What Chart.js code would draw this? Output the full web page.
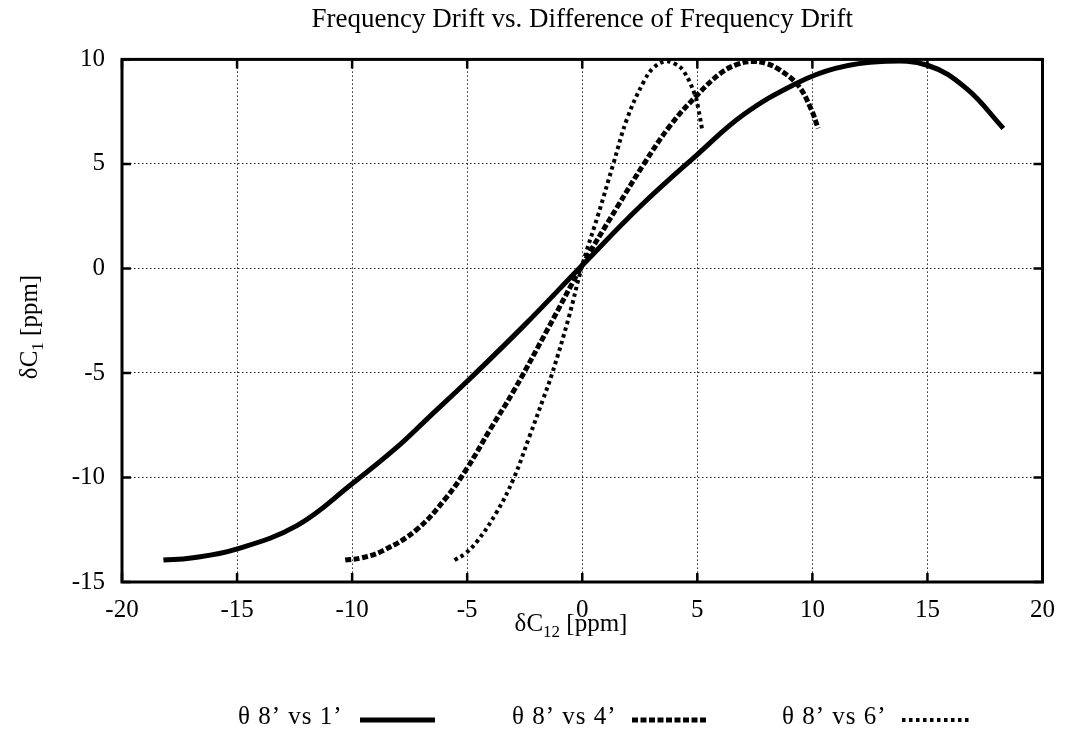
<!DOCTYPE html>
<html>
<head>
<meta charset="utf-8">
<title>Frequency Drift vs. Difference of Frequency Drift</title>
<script src="https://cdn.jsdelivr.net/npm/chart.js@4.4.1/dist/chart.umd.min.js"></script>
<style>
  html, body { margin: 0; padding: 0; background: #fff; }
  #wrap { width: 1068px; height: 740px; }
</style>
</head>
<body>
<div id="wrap"><canvas id="drift" width="1068" height="740"></canvas></div>
<script>
/* ---------- DATA ---------- */
const chartTitle = "Frequency Drift vs. Difference of Frequency Drift";
const seriesLabels = ["θ 8’ vs 1’", "θ 8’ vs 4’", "θ 8’ vs 6’"];

const xTicks = [-20, -15, -10, -5, 0, 5, 10, 15, 20];
const yTicks = [-15, -10, -5, 0, 5, 10];

// θ 8' vs 1'
const drift1X = [-18.2, -17, -15.1, -12.4, -10, -8.1, -6.6, -5, -2.5, 0, 2.5, 5, 7, 9.3, 11, 13, 15, 16.7, 18.3];
const drift1Y = [-13.95, -13.85, -13.45, -12.3, -10.3, -8.6, -7.05, -5.4, -2.7, 0.15, 2.95, 5.45, 7.35, 8.85, 9.57, 9.9, 9.72, 8.6, 6.7];

// θ 8' vs 4'
const drift4X = [-10.3, -9.6, -8.66, -7.2, -5.9, -5, -4, -3, -1.5, 0, 1.5, 2.68, 3.84, 5, 6, 6.7, 7.4, 8, 8.48, 9.35, 9.93, 10.25];
const drift4Y = [-13.95, -13.85, -13.5, -12.5, -10.95, -9.55, -7.7, -5.9, -2.9, 0.15, 2.9, 5.0, 6.86, 8.3, 9.33, 9.75, 9.9, 9.8, 9.57, 8.8, 7.66, 6.7];

// θ 8' vs 6'
const drift6X = [-5.55, -5.1, -4.6, -3.74, -3, -2.28, -1.7, -1.3, -0.6, 0, 0.7, 1.35, 1.96, 2.68, 3.1, 3.6, 4, 4.4, 4.9, 5.05, 5.2];
const drift6Y = [-13.95, -13.65, -13.1, -11.7, -10.1, -8.0, -6.25, -5.0, -2.4, 0.15, 2.6, 5.0, 7.2, 8.95, 9.6, 9.9, 9.8, 9.45, 8.3, 7.6, 6.7];

/* ---------- HELPERS ---------- */
function toPoints(xs, ys) {
  return xs.map((x, i) => ({ x: x, y: ys[i] }));
}

const SERIF = "'Liberation Serif', 'Times New Roman', serif";
Chart.defaults.font.family = SERIF;
Chart.defaults.color = "#000";

/* ---------- FRAME, AXIS TITLES, LEGEND ---------- */
const gnuplotFrame = {
  id: "gnuplotFrame",
  afterDatasetsDraw(chart) {
    const { ctx, chartArea: a, scales } = chart;
    ctx.save();
    ctx.strokeStyle = "#000";
    ctx.lineWidth = 3;
    ctx.strokeRect(a.left, a.top, a.right - a.left, a.bottom - a.top);

    // inward ticks on all four sides
    ctx.lineWidth = 2.5;
    const len = 9;
    ctx.beginPath();
    xTicks.forEach(v => {
      const px = scales.x.getPixelForValue(v);
      ctx.moveTo(px, a.bottom); ctx.lineTo(px, a.bottom - len);
      ctx.moveTo(px, a.top); ctx.lineTo(px, a.top + len);
    });
    yTicks.forEach(v => {
      const py = scales.y.getPixelForValue(v);
      ctx.moveTo(a.left, py); ctx.lineTo(a.left + len, py);
      ctx.moveTo(a.right, py); ctx.lineTo(a.right - len, py);
    });
    ctx.stroke();
    ctx.restore();
  },
  afterDraw(chart) {
    const { ctx } = chart;
    ctx.save();
    ctx.fillStyle = "#000";

    // text with a subscript, drawn left to right from x
    function subText(parts, x, y) {
      parts.forEach(p => {
        ctx.font = p.sub ? "17px " + SERIF : "25px " + SERIF;
        ctx.fillText(p.t, x, y + (p.sub ? 6 : 0));
        x += ctx.measureText(p.t).width;
      });
    }
    function widthOf(parts) {
      return parts.reduce((w, p) => {
        ctx.font = p.sub ? "17px " + SERIF : "25px " + SERIF;
        return w + ctx.measureText(p.t).width;
      }, 0);
    }

    ctx.textBaseline = "alphabetic";
    ctx.textAlign = "left";

    // x axis title
    const xParts = [{ t: "δC" }, { t: "12", sub: true }, { t: " [ppm]" }];
    const xw = widthOf(xParts);
    subText(xParts, 571 - xw / 2, 631);

    // y axis title (rotated)
    const yParts = [{ t: "δC" }, { t: "1", sub: true }, { t: " [ppm]" }];
    const yw = widthOf(yParts);
    ctx.save();
    ctx.translate(37, 327);
    ctx.rotate(-Math.PI / 2);
    subText(yParts, -yw / 2, 0);
    ctx.restore();

    // legend: label first, then line sample
    const textX = [238, 512, 782];
    const lineX = [[360, 435], [632, 707], [902, 970]];
    chart.data.datasets.forEach((ds, i) => {
      ctx.font = "25px " + SERIF;
      ctx.letterSpacing = "1px";
      ctx.setLineDash([]);
      ctx.fillText(ds.label, textX[i], 724);
      ctx.beginPath();
      ctx.strokeStyle = ds.borderColor;
      ctx.lineWidth = ds.borderWidth;
      ctx.setLineDash(ds.borderDash || []);
      ctx.moveTo(lineX[i][0], 720);
      ctx.lineTo(lineX[i][1], 720);
      ctx.stroke();
    });
    ctx.restore();
  }
};

/* ---------- CHART ---------- */
const ctx = document.getElementById("drift").getContext("2d");

new Chart(ctx, {
  type: "scatter",
  data: {
    datasets: [
      {
        label: seriesLabels[0],
        data: toPoints(drift1X, drift1Y),
        borderColor: "#000",
        borderWidth: 5,
        borderDash: []
      },
      {
        label: seriesLabels[1],
        data: toPoints(drift4X, drift4Y),
        borderColor: "#000",
        borderWidth: 5,
        borderDash: [6, 2.5]
      },
      {
        label: seriesLabels[2],
        data: toPoints(drift6X, drift6Y),
        borderColor: "#000",
        borderWidth: 4,
        borderDash: [3.5, 3.5]
      }
    ].map(ds => Object.assign(ds, {
      showLine: true,
      pointRadius: 0,
      pointHoverRadius: 0,
      tension: 0.4,
      fill: false,
      borderCapStyle: "butt"
    }))
  },
  options: {
    responsive: false,
    animation: false,
    events: [],
    layout: { padding: { left: 0, right: 24, top: 0, bottom: 0 } },
    plugins: {
      legend: { display: false },
      tooltip: { enabled: false },
      title: {
        display: true,
        text: chartTitle,
        fullSize: false,
        color: "#000",
        font: { size: 27, weight: "normal", family: SERIF },
        padding: { top: 4, bottom: 23 }
      }
    },
    scales: {
      x: {
        type: "linear",
        min: -20,
        max: 20,
        afterBuildTicks: s => { s.ticks = xTicks.map(v => ({ value: v })); },
        afterFit: s => { s.height = 158; },
        ticks: { font: { size: 25 }, color: "#000", padding: 13 },
        grid: { color: "#222", lineWidth: 1, drawTicks: false },
        border: { display: false, dash: [1.5, 2.5] }
      },
      y: {
        type: "linear",
        min: -15,
        max: 10,
        afterBuildTicks: s => { s.ticks = yTicks.map(v => ({ value: v })); },
        afterFit: s => { s.width = 122; },
        ticks: { font: { size: 25 }, color: "#000", padding: 17 },
        grid: { color: "#222", lineWidth: 1, drawTicks: false },
        border: { display: false, dash: [1.5, 2.5] }
      }
    }
  },
  plugins: [gnuplotFrame]
});
</script>
</body>
</html>
